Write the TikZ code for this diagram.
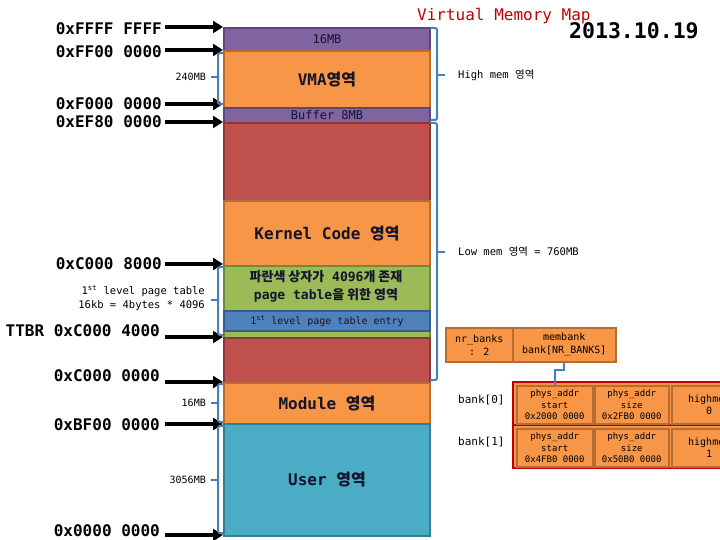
\documentclass[tikz,border=0pt]{standalone}
\usepackage{fontspec}
\setmainfont{DejaVu Sans Mono}
\newfontfamily\krfont{Noto Sans CJK KR}
\usetikzlibrary{arrows.meta}
\newcommand\ko[1]{{\krfont #1}}
\definecolor{purp}{HTML}{8064A2}
\definecolor{purpD}{HTML}{5C4776}
\definecolor{org}{HTML}{F79646}
\definecolor{orgD}{HTML}{B66D31}
\definecolor{redS}{HTML}{C0504D}
\definecolor{redD}{HTML}{8C3836}
\definecolor{grn}{HTML}{9BBB59}
\definecolor{grnD}{HTML}{71893F}
\definecolor{blu}{HTML}{4F81BD}
\definecolor{bluD}{HTML}{385D8A}
\definecolor{aqua}{HTML}{4BACC6}
\definecolor{aquaD}{HTML}{357D91}
\definecolor{brk}{HTML}{4A7EBB}
\definecolor{ttl}{HTML}{C00000}
\definecolor{ink}{HTML}{14142A}
\tikzset{
  seg/.style={draw, line width=2pt, minimum width=206pt, anchor=north west, inner sep=0pt, text=ink},
  addrtxt/.style={anchor=east, inner sep=1pt, font=\fontsize{16}{19}\selectfont\bfseries},
  addr/.style={line width=3.5pt, -{Triangle[length=10pt,width=12pt]}},
  bracket/.style={draw=brk, line width=2pt},
  side/.style={inner sep=1pt, font=\fontsize{10.5}{14}\selectfont},
  tcell/.style={draw=orgD, fill=org, line width=1.5pt, align=center, inner sep=0pt, anchor=north west, font=\fontsize{9}{11.5}\selectfont},
  conn/.style={draw=brk, line width=2pt}
}
\begin{document}
\begin{tikzpicture}[x=1pt,y=-1pt]
\useasboundingbox (0,0) rectangle (720,540);
% title
\node[anchor=west, inner sep=0pt, text=ttl, font=\fontsize{16}{19}\selectfont] (title) at (417,16) {Virtual Memory Map};
\node[anchor=west, inner sep=0pt, font=\fontsize{21.5}{25}\selectfont\bfseries] (date) at (569,31) {2013.10.19};
% memory column
\node[seg, fill=purp, draw=purpD, minimum height=23pt, font=\fontsize{12}{14}\selectfont] (s16) at (223,27) {16MB};
\node[seg, fill=org, draw=orgD, minimum height=57pt, font=\fontsize{16}{19}\selectfont\bfseries] (vma) at (223,50) {VMA\ko{영역}};
\node[seg, fill=purp, draw=purpD, minimum height=15pt, font=\fontsize{12}{14}\selectfont] (buf) at (223,107) {Buffer 8MB};
\node[seg, fill=redS, draw=redD, minimum height=78pt] (red1) at (223,122) {};
\node[seg, fill=org, draw=orgD, minimum height=65pt, font=\fontsize{16}{19}\selectfont\bfseries] (kern) at (223,200) {Kernel Code \ko{영역}};
\node[seg, fill=grn, draw=grnD, minimum height=72pt] (green) at (223,265) {};
\node[inner sep=0pt, align=center, text=ink, font=\fontsize{13}{18}\selectfont\bfseries] (gtxt) at (326,286) {\ko{파란색 상자가} 4096\ko{개 존재}\\page table\ko{을 위한 영역}};
\node[seg, fill=blu, draw=bluD, minimum height=20pt, font=\fontsize{10}{12}\selectfont] (entry) at (223,310) {1\textsuperscript{st} level page table entry};
\node[seg, fill=redS, draw=redD, minimum height=45pt] (red2) at (223,337) {};
\node[seg, fill=org, draw=orgD, minimum height=41pt, font=\fontsize{16}{19}\selectfont\bfseries] (mod) at (223,382) {Module \ko{영역}};
\node[seg, fill=aqua, draw=aquaD, minimum height=112pt, font=\fontsize{16}{19}\selectfont\bfseries] (user) at (223,423) {User \ko{영역}};
% address labels and arrows
\coordinate (e1) at (223,27);
\coordinate (e2) at (223,50);
\coordinate (e3) at (223,104);
\coordinate (e4) at (223,122);
\coordinate (e5) at (223,264);
\coordinate (e6) at (223,337);
\coordinate (e7) at (223,382);
\coordinate (e8) at (223,424);
\coordinate (e9) at (223,535);
\node[addrtxt] (a1) at (163,29) {0xFFFF FFFF};
\node[addrtxt] (a2) at (163,52) {0xFF00 0000};
\node[addrtxt] (a3) at (163,104) {0xF000 0000};
\node[addrtxt] (a4) at (163,122) {0xEF80 0000};
\node[addrtxt] (a5) at (163,264) {0xC000 8000};
\node[addrtxt] (a6) at (161,331) {TTBR 0xC000 4000};
\node[addrtxt] (a7) at (161,376) {0xC000 0000};
\node[addrtxt] (a8) at (161,425) {0xBF00 0000};
\node[addrtxt] (a9) at (161,531) {0x0000 0000};
\draw[addr] (a1.east |- e1) ++(2,0) -- (e1);
\draw[addr] (a2.east |- e2) ++(2,0) -- (e2);
\draw[addr] (a3.east |- e3) ++(2,0) -- (e3);
\draw[addr] (a4.east |- e4) ++(2,0) -- (e4);
\draw[addr] (a5.east |- e5) ++(2,0) -- (e5);
\draw[addr] (a6.east |- e6) ++(4,0) -- (e6);
\draw[addr] (a7.east |- e7) ++(4,0) -- (e7);
\draw[addr] (a8.east |- e8) ++(4,0) -- (e8);
\draw[addr] (a9.east |- e9) ++(4,0) -- (e9);
% left brackets
\draw[bracket, rounded corners=2pt] (223,53) -| (218,104) -- (223,104);
\draw[bracket] (218,77) -- (211,77);
\node[side, anchor=east, font=\fontsize{10}{12}\selectfont] (l240) at (207,77) {240MB};
\draw[bracket, rounded corners=2pt] (223,267) -| (218,335) -- (223,335);
\draw[bracket] (218,300) -- (211,300);
\node[side, anchor=east, align=right] (lpt) at (206,298) {1\textsuperscript{st} level page table\\16kb = 4bytes * 4096};
\draw[bracket, rounded corners=2pt] (223,384) -| (218,422) -- (223,422);
\draw[bracket] (218,403) -- (211,403);
\node[side, anchor=east, font=\fontsize{10}{12}\selectfont] (l16) at (207,403) {16MB};
\draw[bracket, rounded corners=2pt] (223,426) -| (218,533) -- (223,533);
\draw[bracket] (218,480) -- (211,480);
\node[side, anchor=east, font=\fontsize{10}{12}\selectfont] (l3056) at (207,480) {3056MB};
% right brackets
\draw[bracket, rounded corners=2pt] (430,28) -| (437,120) -- (430,120);
\draw[bracket] (437,75) -- (445,75);
\node[side, anchor=west] (hm) at (457,75) {High mem \ko{영역}};
\draw[bracket, rounded corners=2pt] (430,123) -| (437,380) -- (430,380);
\draw[bracket] (437,252) -- (445,252);
\node[side, anchor=west] (lm) at (457,252) {Low mem \ko{영역} = 760MB};
% meminfo boxes
\node[tcell, minimum width=67pt, minimum height=34pt, font=\fontsize{10}{13}\selectfont] (nrb) at (445,327) {nr\_banks\\: 2};
\node[tcell, minimum width=103pt, minimum height=34pt, font=\fontsize{10}{13}\selectfont] (mb) at (512,327) {membank\\bank[NR\_BANKS]};
% bank table
\draw[draw=ttl, fill=org, line width=2pt] (513,382) rectangle (745,425);
\draw[draw=ttl, fill=org, line width=2pt] (513,425) rectangle (745,468);
\node[tcell, minimum width=76pt, minimum height=38pt] (b0s) at (516,385) {phys\_addr\\start\\0x2000 0000};
\node[tcell, minimum width=74pt, minimum height=38pt] (b0z) at (594,385) {phys\_addr\\size\\0x2FB0 0000};
\node[tcell, minimum width=75pt, minimum height=38pt, font=\fontsize{10}{12.5}\selectfont] (b0h) at (671,385) {highmem\\0};
\node[tcell, minimum width=76pt, minimum height=38pt] (b1s) at (516,428) {phys\_addr\\start\\0x4FB0 0000};
\node[tcell, minimum width=74pt, minimum height=38pt] (b1z) at (594,428) {phys\_addr\\size\\0x50B0 0000};
\node[tcell, minimum width=75pt, minimum height=38pt, font=\fontsize{10}{12.5}\selectfont] (b1h) at (671,428) {highmem\\1};
\node[side, anchor=west, font=\fontsize{11}{13}\selectfont] (bk0) at (457,400) {bank[0]};
\node[side, anchor=west, font=\fontsize{11}{13}\selectfont] (bk1) at (457,442) {bank[1]};
\draw[conn] (mb.south) -- ++(0,7) -| (b0s.north);
\end{tikzpicture}
\end{document}
